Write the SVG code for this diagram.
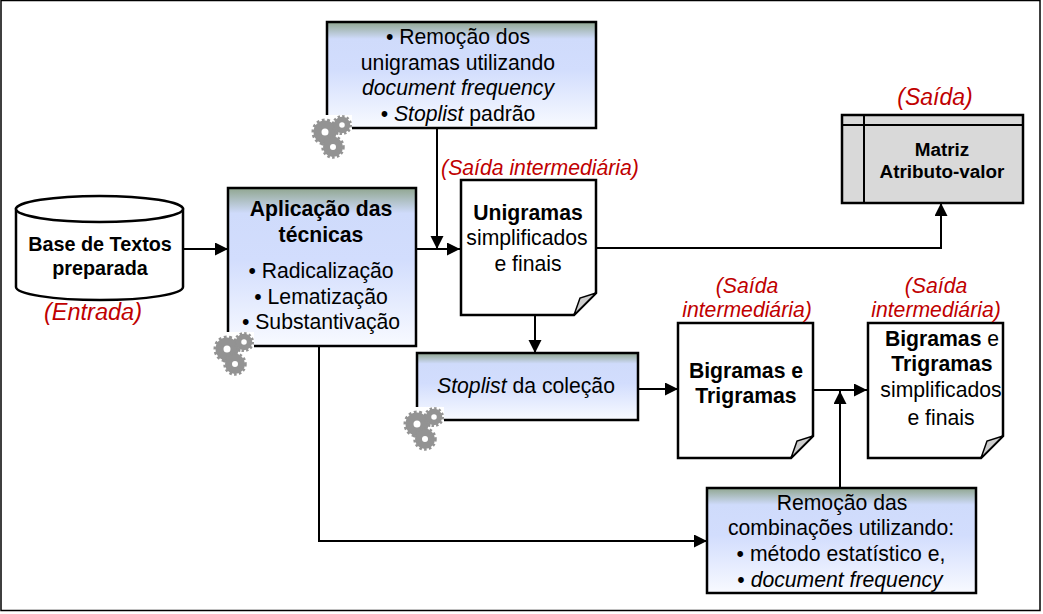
<svg xmlns="http://www.w3.org/2000/svg" xmlns:xlink="http://www.w3.org/1999/xlink" width="1043" height="614" viewBox="0 0 1043 614">
<style>
text{font-family:"Liberation Sans",Arial,sans-serif;font-size:21.2px;fill:#000;text-anchor:middle}
.b{font-weight:bold}
.i{font-style:italic}
.r{font-style:italic;fill:#c00000;font-size:21.2px}
.bx{fill:url(#g);stroke:#000;stroke-width:2.5}
.doc{fill:#fff;stroke:#000;stroke-width:2.5}
.fold{fill:#cdcdcd;stroke:#000;stroke-width:1.5}
.c{fill:none;stroke:#000;stroke-width:2}
</style>
<defs>
<linearGradient id="g" x1="0" y1="0" x2="0" y2="1">
<stop offset="0" stop-color="#90a690"/>
<stop offset="0.16" stop-color="#cfdbfb"/>
<stop offset="0.45" stop-color="#d2ddfd"/>
<stop offset="1" stop-color="#f8faff"/>
</linearGradient>
<filter id="soft" x="-10%" y="-10%" width="120%" height="120%"><feGaussianBlur stdDeviation="0.4"/></filter>
<marker id="a" markerWidth="14" markerHeight="14" refX="13" refY="6.500" orient="auto" markerUnits="userSpaceOnUse"><path d="M0,0L13,6.500L0,13Z" fill="#000"/></marker>
<g id="gear">
<rect x="-1" y="0" width="40" height="45" fill="#fff"/>
<g fill="none" stroke="#939393" filter="url(#soft)">
<circle cx="12" cy="17" r="7.500" stroke-width="8"/><circle cx="12" cy="17" r="12" stroke-width="3" stroke-dasharray="2.800 2.500"/>
<circle cx="29" cy="10" r="5.500" stroke-width="5.500"/><circle cx="29" cy="10" r="8.800" stroke-width="2.500" stroke-dasharray="2.400 2.200"/>
<circle cx="20" cy="32" r="6.500" stroke-width="7"/><circle cx="20" cy="32" r="10.500" stroke-width="2.500" stroke-dasharray="2.600 2.300"/>
</g>
</g>
</defs>
<rect x="0" y="0" width="1043" height="614" fill="#fff"/>
<rect x="1" y="0.500" width="1039" height="610" fill="#fff" stroke="#000" stroke-width="1.500"/>
<g id="connectors">
<path class="c" d="M184,249H228" marker-end="url(#a)"/>
<path class="c" d="M416,249H460" marker-end="url(#a)"/>
<path class="c" d="M437,128V249" marker-end="url(#a)"/>
<path class="c" d="M597,248H941V203" marker-end="url(#a)"/>
<path class="c" d="M535,315V353" marker-end="url(#a)"/>
<path class="c" d="M638,389H678" marker-end="url(#a)"/>
<path class="c" d="M813,390H867" marker-end="url(#a)"/>
<path class="c" d="M840,488V391" marker-end="url(#a)"/>
<path class="c" d="M319,346V541H707" marker-end="url(#a)"/>
</g>
<g id="n-remocao-uni">
<rect class="bx" x="327" y="22" width="269" height="106"/>
<use xlink:href="#gear" href="#gear" x="313" y="115"/>
<text x="458" y="44">• Remoção dos</text>
<text x="458" y="69.500">unigramas utilizando</text>
<text x="458" y="95" class="i">document frequency</text>
<text x="458" y="121">• <tspan class="i">Stoplist</tspan> padrão</text>
</g>
<g id="n-aplicacao">
<rect class="bx" x="228" y="188" width="188" height="158"/>
<use xlink:href="#gear" href="#gear" x="215" y="332"/>
<text x="321" y="216" class="b">Aplicação das</text>
<text x="321" y="241.500" class="b">técnicas</text>
<text x="321" y="278">• Radicalização</text>
<text x="321" y="304">• Lematização</text>
<text x="321" y="329">• Substantivação</text>
</g>
<g id="n-base">
<path d="M16,209V287C16,294 53,300 100,300S183,294 183,287V209Z" fill="#fff" stroke="#000" stroke-width="2.500"/>
<ellipse cx="99.500" cy="209" rx="83.500" ry="13" fill="#fff" stroke="#000" stroke-width="2.500"/>
<text x="100" y="251" class="b" style="font-size:19.800px">Base de Textos</text>
<text x="100" y="275" class="b" style="font-size:19.800px">preparada</text>
<text x="93" y="320" class="r" style="font-size:23.500px">(Entrada)</text>
</g>
<g id="n-unigramas">
<path class="doc" d="M461,180H596V293L574,315H461Z"/>
<path class="fold" d="M574,315L580,298L596,293Z"/>
<text x="528" y="220" class="b">Unigramas</text>
<text x="527" y="245">simplificados</text>
<text x="528" y="271">e finais</text>
<text x="540" y="175" class="r">(Saída intermediária)</text>
</g>
<g id="n-stoplist">
<rect class="bx" x="417" y="353" width="221" height="67"/>
<use xlink:href="#gear" href="#gear" x="405" y="407"/>
<text x="526" y="393"><tspan class="i">Stoplist</tspan> da coleção</text>
</g>
<g id="n-bigramas">
<path class="doc" d="M678,323H813V436L791,458H678Z"/>
<path class="fold" d="M791,458L797,441L813,436Z"/>
<text x="746" y="378" class="b">Bigramas e</text>
<text x="746" y="403" class="b">Trigramas</text>
<text x="747" y="293" class="r">(Saída</text>
<text x="747" y="317" class="r">intermediária)</text>
</g>
<g id="n-bigramas-finais">
<path class="doc" d="M868,323H1003V436L981,458H868Z"/>
<path class="fold" d="M981,458L987,441L1003,436Z"/>
<text x="942" y="346"><tspan class="b">Bigramas</tspan> e</text>
<text x="942" y="371" class="b">Trigramas</text>
<text x="941" y="397">simplificados</text>
<text x="941" y="425">e finais</text>
<text x="936" y="293" class="r">(Saída</text>
<text x="936" y="317" class="r">intermediária)</text>
</g>
<g id="n-matriz">
<rect x="842" y="115" width="181" height="88" fill="#d9d9d9" stroke="#000" stroke-width="2.500"/>
<path d="M842,125H1023M864,115V203" fill="none" stroke="#000" stroke-width="2"/>
<text x="942" y="156" class="b" style="font-size:18.900px">Matriz</text>
<text x="942" y="178" class="b" style="font-size:18.900px">Atributo-valor</text>
<text x="935" y="105" class="r" style="font-size:23px">(Saída)</text>
</g>
<g id="n-remocao-comb">
<rect class="bx" x="707" y="488" width="269" height="105"/>
<text x="842" y="510">Remoção das</text>
<text x="841" y="535">combinações utilizando:</text>
<text x="841" y="561">• método estatístico e,</text>
<text x="840" y="587">• <tspan class="i">document frequency</tspan></text>
</g>
</svg>
